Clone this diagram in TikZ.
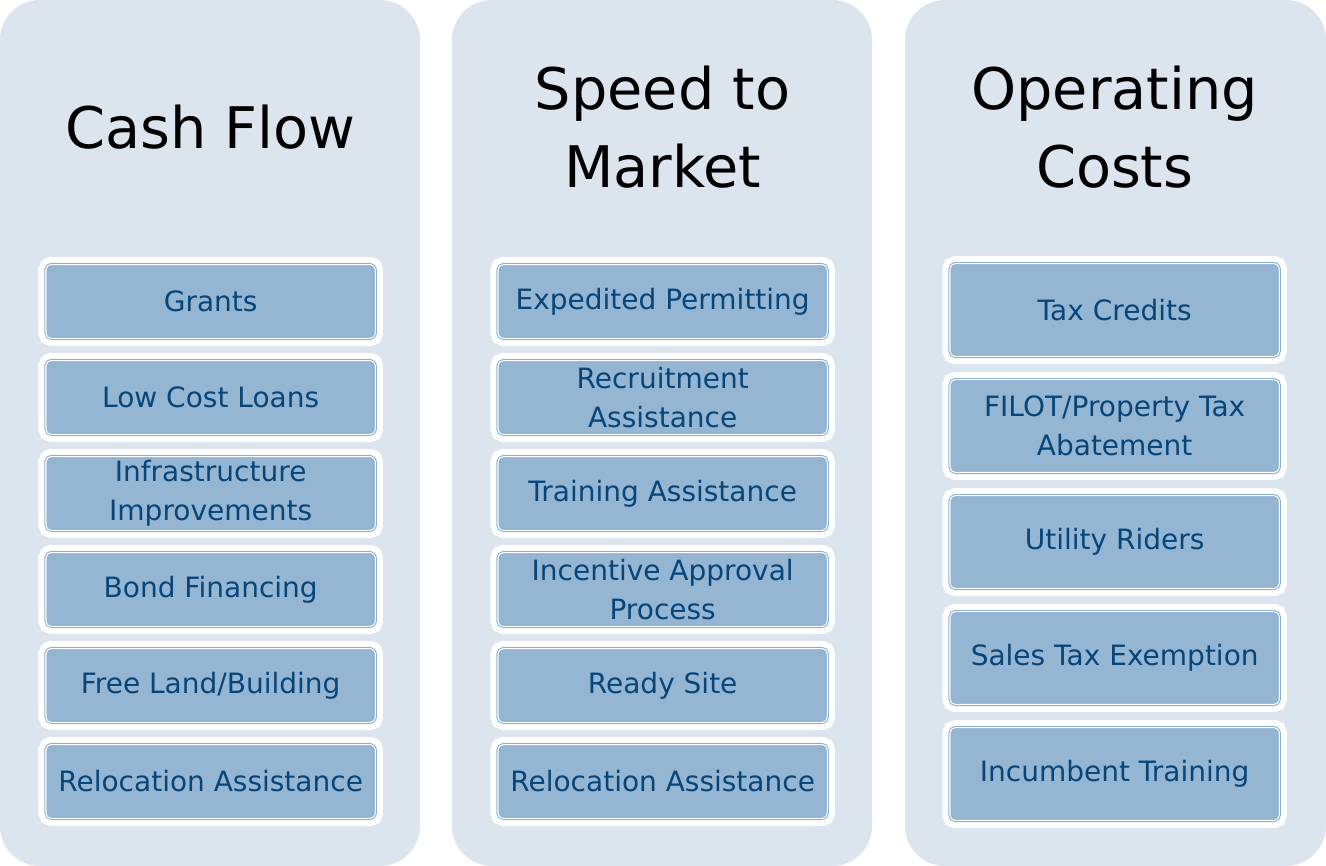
\documentclass[tikz,border=0pt]{standalone}
\usepackage{fontspec}
\setmainfont{DejaVu Sans}
\usetikzlibrary{positioning}

\definecolor{panelfill}{HTML}{DCE4EE}
\definecolor{itemfill}{HTML}{95B6D3}
\definecolor{itemline}{HTML}{8EB0D2}
\definecolor{itemtext}{HTML}{06457A}

\begin{document}
\begin{tikzpicture}[
  panel/.style={fill=panelfill,rounded corners=30pt,minimum height=649.5pt,anchor=north west,inner sep=0pt,outer sep=0pt},
  ttl/.style={font=\fontsize{43}{58.5}\selectfont,align=center,text=black},
  item/.style={fill=itemfill,draw=itemline,line width=0.8pt,double=white,double distance=0.8pt,
    rounded corners=4pt,minimum width=247pt,minimum height=55.4pt,inner sep=2pt,outer sep=0pt,
    text=itemtext,align=center,font=\fontsize{21}{29}\selectfont,
    preaction={draw=white,line width=11.4pt,double=none}},
  tall/.style={minimum height=69.6pt},
]
\useasboundingbox (0,0) rectangle (994.5pt,-649.5pt);

% background panels
\node[panel,minimum width=315pt]    (cfP) at (0,0) {};
\node[panel,minimum width=315pt]    (smP) at (339pt,0) {};
\node[panel,minimum width=315.75pt] (ocP) at (678.75pt,0) {};

% column titles
\node[ttl] (cfT) at (158pt,-95.25pt) {Cash Flow};
\node[ttl] (smT) at (497pt,-95.25pt) {Speed to\\Market};
\node[ttl] (ocT) at (836pt,-95.25pt) {Operating\\Costs};

% cash flow
\node[item] (cf1) at (158pt,-226.1pt) {Grants};
\node[item,below=16.6pt of cf1] (cf2) {Low Cost Loans};
\node[item,below=16.6pt of cf2] (cf3) {Infrastructure\\Improvements};
\node[item,below=16.6pt of cf3] (cf4) {Bond Financing};
\node[item,below=16.6pt of cf4] (cf5) {Free Land/Building};
\node[item,below=16.6pt of cf5] (cf6) {Relocation Assistance};

% speed to market
\node[item] (sm1) at (497pt,-226.1pt) {Expedited Permitting};
\node[item,below=16.6pt of sm1] (sm2) {Recruitment\\Assistance};
\node[item,below=16.6pt of sm2] (sm3) {Training Assistance};
\node[item,below=16.6pt of sm3] (sm4) {Incentive Approval\\Process};
\node[item,below=16.6pt of sm4] (sm5) {Ready Site};
\node[item,below=16.6pt of sm5] (sm6) {Relocation Assistance};

% operating costs
\node[item,tall] (oc1) at (836pt,-232.5pt) {Tax Credits};
\node[item,tall,below=17.4pt of oc1] (oc2) {FILOT/Property Tax\\Abatement};
\node[item,tall,below=17.4pt of oc2] (oc3) {Utility Riders};
\node[item,tall,below=17.4pt of oc3] (oc4) {Sales Tax Exemption};
\node[item,tall,below=17.4pt of oc4] (oc5) {Incumbent Training};
\end{tikzpicture}
\end{document}
